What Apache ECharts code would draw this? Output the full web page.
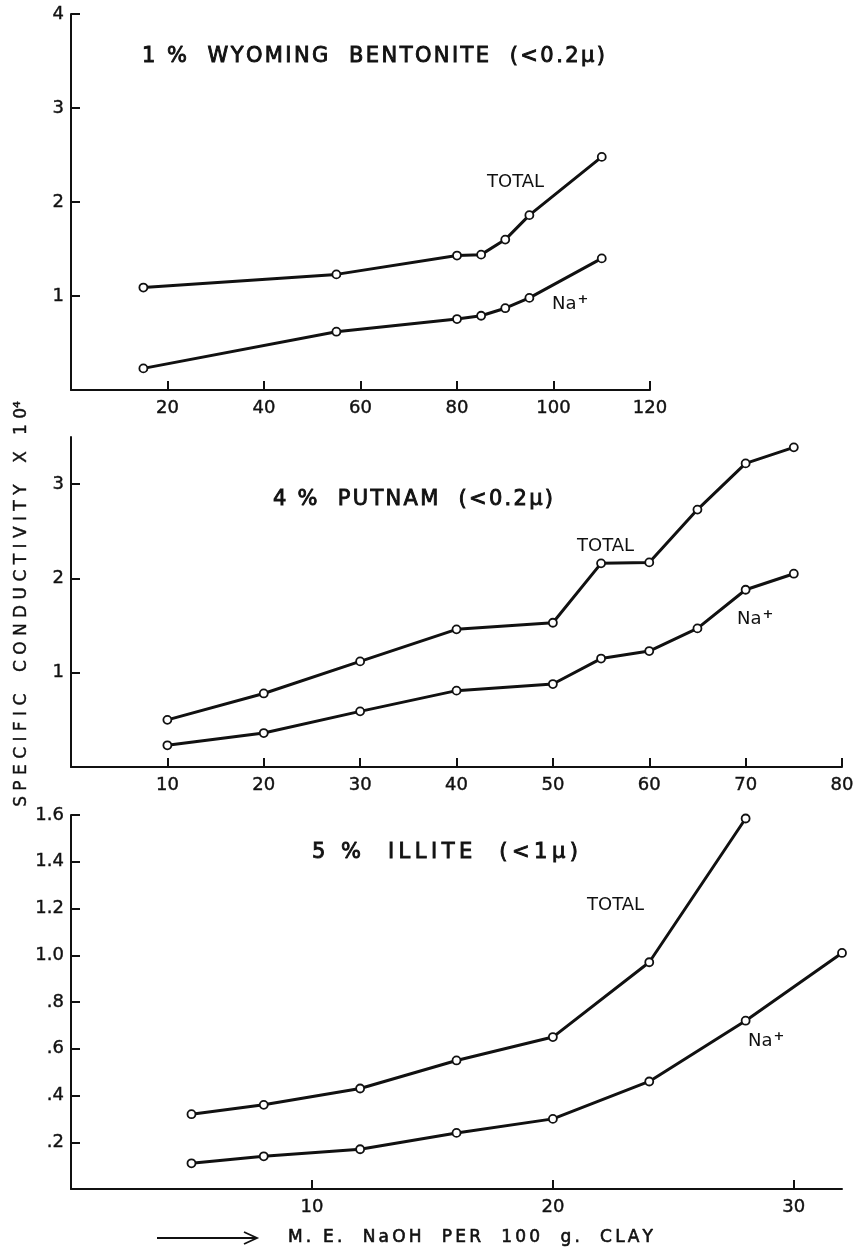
<!DOCTYPE html>
<html><head><meta charset="utf-8">
<script src="https://cdn.jsdelivr.net/npm/echarts@6/dist/echarts.min.js"></script>
<style>html,body{margin:0;padding:0;background:#fff}#c{width:858px;height:1255px}</style>
</head><body><div id="c"></div>
<script>
// Panel 1: 1% Wyoming bentonite
const wyX = [15, 55, 80, 85, 90, 95, 110];
const wyTotal = [1.09, 1.23, 1.43, 1.44, 1.60, 1.86, 2.48];
const wyNa = [0.23, 0.62, 0.755, 0.79, 0.87, 0.98, 1.40];
// Panel 2: 4% Putnam
const puX = [10, 20, 30, 40, 50, 55, 60, 65, 70, 75];
const puTotal = [0.50, 0.78, 1.12, 1.46, 1.53, 2.16, 2.17, 2.73, 3.22, 3.39];
const puNa = [0.23, 0.36, 0.59, 0.81, 0.88, 1.15, 1.23, 1.47, 1.88, 2.05];
// Panel 3: 5% Illite
const ilTotalX = [5, 8, 12, 16, 20, 24, 28];
const ilTotal = [0.32, 0.36, 0.43, 0.55, 0.65, 0.97, 1.585];
const ilNaX = [5, 8, 12, 16, 20, 24, 28, 32];
const ilNa = [0.11, 0.14, 0.17, 0.24, 0.30, 0.46, 0.72, 1.01];
// Tick labels
const wyXTicks = [20, 40, 60, 80, 100, 120];
const wyYTicks = [1, 2, 3, 4];
const puXTicks = [10, 20, 30, 40, 50, 60, 70, 80];
const puYTicks = [1, 2, 3];
const ilXTicks = [10, 20, 30];
const ilYTicks = [0.2, 0.4, 0.6, 0.8, 1.0, 1.2, 1.4, 1.6];

const FONT = '"DejaVu Sans", sans-serif';
const INK = '#111';

function pair(xs, ys) { return xs.map((x, i) => [x, ys[i]]); }

function xAxis(grid, min, max, ticks) {
  return {
    type: 'value', gridIndex: grid, min: min, max: max,
    splitLine: { show: false },
    axisLine: { show: true, onZero: false, lineStyle: { color: INK, width: 2 } },
    axisTick: { show: true, inside: true, length: 9, lineStyle: { color: INK, width: 2 }, customValues: ticks },
    axisLabel: { color: INK, fontFamily: FONT, fontSize: 18, margin: 9, customValues: ticks, textBorderColor: INK, textBorderWidth: 0.4 }
  };
}
function yAxis(grid, min, max, ticks, fmt) {
  return {
    type: 'value', gridIndex: grid, min: min, max: max,
    splitLine: { show: false },
    axisLine: { show: true, onZero: false, lineStyle: { color: INK, width: 2 } },
    axisTick: { show: true, inside: true, length: 9, lineStyle: { color: INK, width: 2 }, customValues: ticks },
    axisLabel: { color: INK, fontFamily: FONT, fontSize: 18, margin: 7, customValues: ticks, formatter: fmt, textBorderColor: INK, textBorderWidth: 0.4 }
  };
}
function line(idx, data) {
  return {
    type: 'line', xAxisIndex: idx, yAxisIndex: idx, data: data,
    symbol: 'circle', symbolSize: 8,
    itemStyle: { color: '#fff', borderColor: INK, borderWidth: 1.8 },
    lineStyle: { color: INK, width: 3 },
    z: 3
  };
}
function txt(x, y, text, size) {
  return {
    type: 'text', x: x, y: y, silent: true,
    style: { text: text, fill: INK, font: 'normal ' + size + 'px ' + FONT, align: 'left', verticalAlign: 'middle' }
  };
}
// lay out a string with uniform letter spacing so it spans x0..x1
const mctx = document.createElement('canvas').getContext('2d');
function spacedText(str, x0, x1, y, size, strokeW) {
  const font = 'normal ' + size + 'px ' + FONT;
  mctx.font = font;
  const chars = Array.from(str);
  const widths = chars.map(c => mctx.measureText(c).width);
  const total = widths.reduce((a, b) => a + b, 0);
  const sp = (x1 - x0 - total) / (chars.length - 1);
  const out = [];
  let x = x0;
  chars.forEach(function (c, i) {
    if (c !== ' ') {
      out.push({ type: 'text', x: x, y: y, silent: true,
        style: { text: c, fill: INK, font: font, align: 'left', verticalAlign: 'middle', stroke: INK, lineWidth: strokeW } });
    }
    x += widths[i] + sp;
  });
  return out;
}
function na(x, y) {
  return { type: 'text', x: x, y: y, silent: true,
    style: { text: '{b|Na}{s|+}', align: 'left', verticalAlign: 'middle',
      rich: { b: { fontFamily: FONT, fontSize: 18, fill: INK, color: INK },
              s: { fontFamily: FONT, fontSize: 13, fontWeight: 'bold', fill: INK, color: INK, padding: [0, 0, 9, 1] } } } };
}

const graphics = [].concat(
  spacedText('1 %  WYOMING  BENTONITE  (<0.2\u03bc)', 142, 605, 57, 21, 0.9),
  spacedText('4 %  PUTNAM  (<0.2\u03bc)', 273, 553, 500, 21, 0.9),
  spacedText('5 %  ILLITE  (<1\u03bc)', 312, 578, 853, 21, 0.9),
  spacedText('M. E.  NaOH  PER  100  g.  CLAY', 288, 653, 1238, 17, 0.6),
  [
    txt(487, 182, 'TOTAL', 18),
    txt(577, 546, 'TOTAL', 18),
    txt(587, 905, 'TOTAL', 18),
    na(552, 304),
    na(737, 619),
    na(748, 1041),
    { type: 'text', x: 22, y: 604, rotation: Math.PI / 2, silent: true,
      style: { text: 'S P E C I F I C    C O N D U C T I V I T Y    X   1 0\u2074', fill: INK, font: 'normal 17px ' + FONT, align: 'center', verticalAlign: 'middle', stroke: INK, lineWidth: 0.4 } },
    { type: 'polyline', silent: true, shape: { points: [[157, 1238], [257, 1238]] }, style: { stroke: INK, lineWidth: 1.8, fill: null } },
    { type: 'polyline', silent: true, shape: { points: [[244, 1232], [257, 1238], [244, 1244]] }, style: { stroke: INK, lineWidth: 1.8, fill: null } }
  ]
);

const chart = echarts.init(document.getElementById('c'), null, { renderer: 'canvas' });
chart.setOption({
  animation: false,
  backgroundColor: '#fff',
  grid: [
    { left: 71, top: 14, width: 579, height: 376 },
    { left: 71, top: 437, width: 771, height: 330 },
    { left: 71, top: 815, width: 771, height: 374 }
  ],
  xAxis: [
    xAxis(0, 0, 120, wyXTicks),
    xAxis(1, 0, 80, puXTicks),
    xAxis(2, 0, 32, ilXTicks)
  ],
  yAxis: [
    yAxis(0, 0, 4, wyYTicks, v => String(v)),
    yAxis(1, 0, 3.5, puYTicks, v => String(v)),
    yAxis(2, 0, 1.6, ilYTicks, v => (v < 0.999 ? v.toFixed(1).slice(1) : v.toFixed(1)))
  ],
  series: [
    line(0, pair(wyX, wyTotal)),
    line(0, pair(wyX, wyNa)),
    line(1, pair(puX, puTotal)),
    line(1, pair(puX, puNa)),
    line(2, pair(ilTotalX, ilTotal)),
    line(2, pair(ilNaX, ilNa))
  ],
  graphic: graphics
});
</script>
</body></html>
